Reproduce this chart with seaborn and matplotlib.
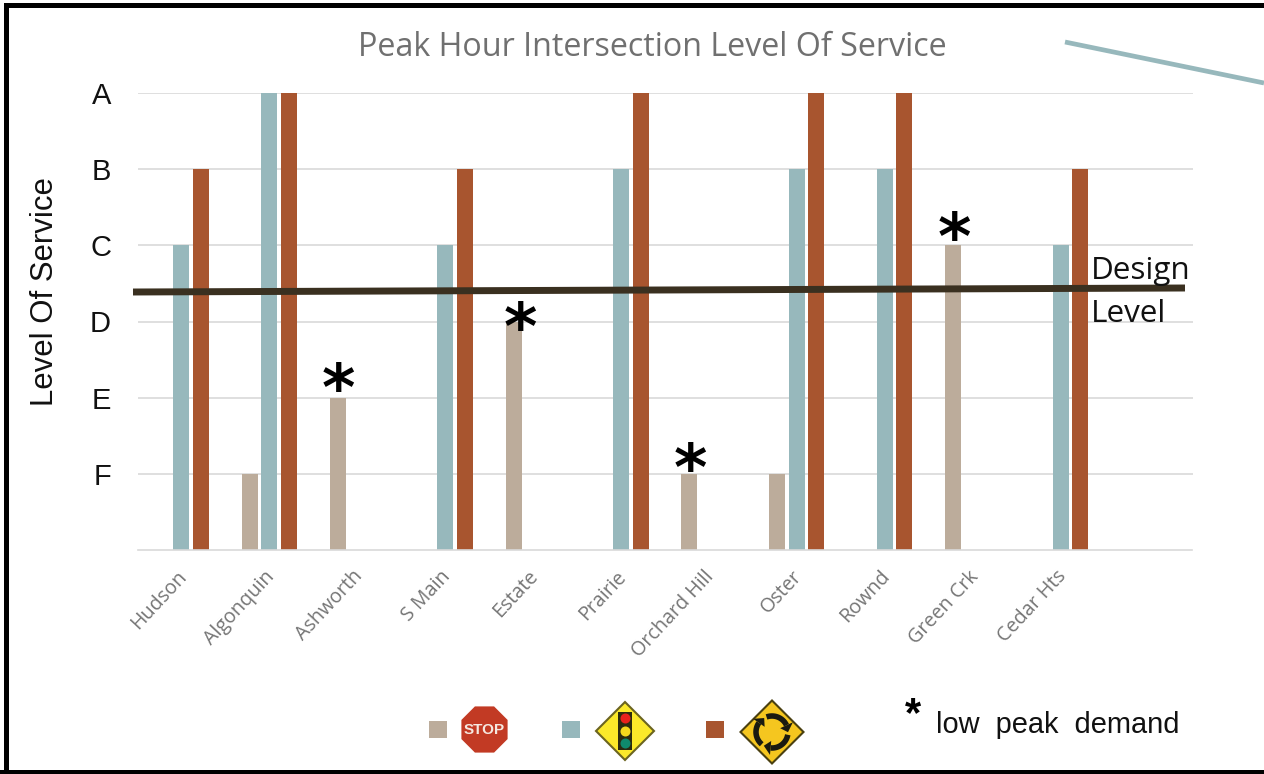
import numpy as np
import pandas as pd
import matplotlib
matplotlib.use("Agg")
import matplotlib.pyplot as plt
from matplotlib.patches import Polygon, Rectangle
from matplotlib.transforms import ScaledTranslation
import seaborn as sns

# level of service, F=1 ... A=6, nan = no such control at that intersection
intersections = ["Hudson", "Algonquin", "Ashworth", "S Main", "Estate", "Prairie",
                 "Orchard Hill", "Oster", "Rownd", "Green Crk", "Cedar Hts", ""]
stop = [np.nan, 1, 2, np.nan, 3, np.nan, 1, 1, np.nan, 4, np.nan, np.nan]
signal = [4, 6, np.nan, 4, np.nan, 5, np.nan, 5, 5, np.nan, 4, np.nan]
roundabout = [5, 6, np.nan, 5, np.nan, 6, np.nan, 6, 6, np.nan, 5, np.nan]
low_peak = ["Ashworth", "Estate", "Orchard Hill", "Green Crk"]
levels = ["F", "E", "D", "C", "B", "A"]

df = pd.DataFrame({"Intersection": intersections, "Stop": stop, "Signal": signal, "Roundabout": roundabout})
df = df.melt(id_vars="Intersection", var_name="Control", value_name="LOS")

colors = {"Stop": "#bcac9b", "Signal": "#97b8bc", "Roundabout": "#a8552f"}

sns.set_style("white")
fig = plt.figure(figsize=(12.64, 7.74), dpi=100)
ax = fig.add_axes([137.5/1264, 1-550/774, 1055/1264, 457/774])

sns.barplot(data=df, x="Intersection", y="LOS", hue="Control", palette=colors, order=intersections,
            width=0.667, gap=0.18, saturation=1, legend=False, linewidth=0, ax=ax, zorder=2)
ax.set_xlim(-0.5, 11.5)
ax.set_ylim(0, 6)
ax.set_yticks(range(1, 7))
ax.set_yticklabels(levels, fontsize=21, family="Liberation Sans", color="#111111")
ax.tick_params(axis="y", length=0, pad=19)
ax.tick_params(axis="x", length=0, pad=12)
ax.set_xticks(range(len(intersections)))
ax.set_xticklabels(intersections, rotation=47, ha="right", rotation_mode="anchor",
                   fontsize=14.2, family="Open Sans", color="#757575")
for lab in ax.get_xticklabels():
    lab.set_transform(lab.get_transform() + ScaledTranslation(-5/100, 0, fig.dpi_scale_trans))
ax.set_xlabel("")
ax.set_ylabel("Level Of Service", fontsize=22.4, family="Liberation Sans", color="#111111")
ax.yaxis.set_label_coords(-0.0735, 0.565)
ax.yaxis.grid(True, color="#d9d9d9", lw=1.2, zorder=0)
ax.set_axisbelow(True)
sns.despine(ax=ax, left=True)
ax.spines["bottom"].set_color("#d9d9d9")
ax.spines["bottom"].set_linewidth(1.2)

# asterisks above the low peak demand bars, the Estate one sits lower and off to the side
for name in low_peak:
    i = intersections.index(name)
    dx = 0.08 if name == "Estate" else 0.01
    dy = {"Ashworth": 0.07, "Estate": -0.13, "Orchard Hill": 0.03, "Green Crk": 0.06}[name]
    ax.text(i - 0.222 + dx, stop[i] + dy, "*", ha="center", va="center", fontsize=46,
            family="DejaVu Sans", fontweight="bold", color="black", zorder=5)

# everything else is drawn on top in pixel coordinates
ov = fig.add_axes([0, 0, 1, 1], zorder=10)
ov.set_xlim(0, 1264)
ov.set_ylim(774, 0)
ov.axis("off")
ov.patch.set_alpha(0)

ov.plot([133, 1185], [292, 288], color="#3a3020", lw=5, solid_capstyle="butt")
ov.plot([1065, 1264], [42, 83], color="#97b8bc", lw=3.4, solid_capstyle="butt")

ov.text(652.5, 48, "Peak Hour Intersection Level Of Service", ha="center", va="center",
        fontsize=23.2, family="Open Sans", color="#707070")
ov.text(1091, 271, "Design", ha="left", va="center", fontsize=22.6, family="Open Sans", color="#111111")
ov.text(1091, 314, "Level", ha="left", va="center", fontsize=22.6, family="Open Sans", color="#111111")

ov.text(913, 715, "*", ha="center", va="center", fontsize=30, fontweight="bold", family="Liberation Sans", color="black")
ov.text(936, 725, "low  peak  demand", ha="left", va="center", fontsize=20.9, family="Liberation Sans", color="#111111")

# legend swatches
for x0, c in [(429, "Stop"), (562, "Signal"), (706, "Roundabout")]:
    ov.add_patch(Rectangle((x0, 721), 18, 17, color=colors[c], lw=0))

# stop sign
cx, cy, r = 484.5, 729.5, 25
ang = np.deg2rad(22.5 + 45 * np.arange(8))
ov.add_patch(Polygon(np.c_[cx + r * np.cos(ang), cy + r * np.sin(ang)], color="#c23a24", lw=0))
ov.text(cx, cy, "STOP", ha="center", va="center", fontsize=11, fontweight="bold", family="Liberation Sans",
        color="#f5e8e0")

# signal ahead sign
cx, cy, r = 625, 731, 29
ov.add_patch(Polygon([(cx - r, cy), (cx, cy - r), (cx + r, cy), (cx, cy + r)], fc="#fbe92a", ec="#6b6420", lw=1.5))
ov.add_patch(Rectangle((cx - 7, cy - 19), 14, 38, color="#2b2b10", lw=0))
for dy, c in [(-13, "#e8201c"), (0, "#f4d81c"), (12, "#0f8a6c")]:
    ov.scatter(cx, cy + dy, s=52, color=c, lw=0, zorder=4)

# roundabout sign
cx, cy, r = 772, 732, 31.5
ov.add_patch(Polygon([(cx - r, cy), (cx, cy - r), (cx + r, cy), (cx, cy + r)], fc="#f5c61f", ec="#4a4010", lw=1.5))
for a0 in [10, 130, 250]:
    t = np.deg2rad(np.linspace(a0, a0 + 85, 20))
    ov.plot(cx + 16 * np.cos(t), cy + 16 * np.sin(t), color="#1a1a10", lw=4, solid_capstyle="butt")
    te = t[-1]
    tip = np.array([cx + 16 * np.cos(te + 0.45), cy + 16 * np.sin(te + 0.45)])
    a = np.array([cx + 9 * np.cos(te), cy + 9 * np.sin(te)])
    b = np.array([cx + 23 * np.cos(te), cy + 23 * np.sin(te)])
    ov.add_patch(Polygon([tip, a, b], color="#1a1a10", lw=0))

# black frame, open on the right
ov.add_patch(Rectangle((4, 3), 1260, 5, color="black", lw=0, zorder=20))
ov.add_patch(Rectangle((4, 3), 5, 771, color="black", lw=0, zorder=20))
ov.add_patch(Rectangle((0, 770), 1264, 4, color="black", lw=0, zorder=20))

plt.savefig("out.png", dpi=100)
plt.close()
